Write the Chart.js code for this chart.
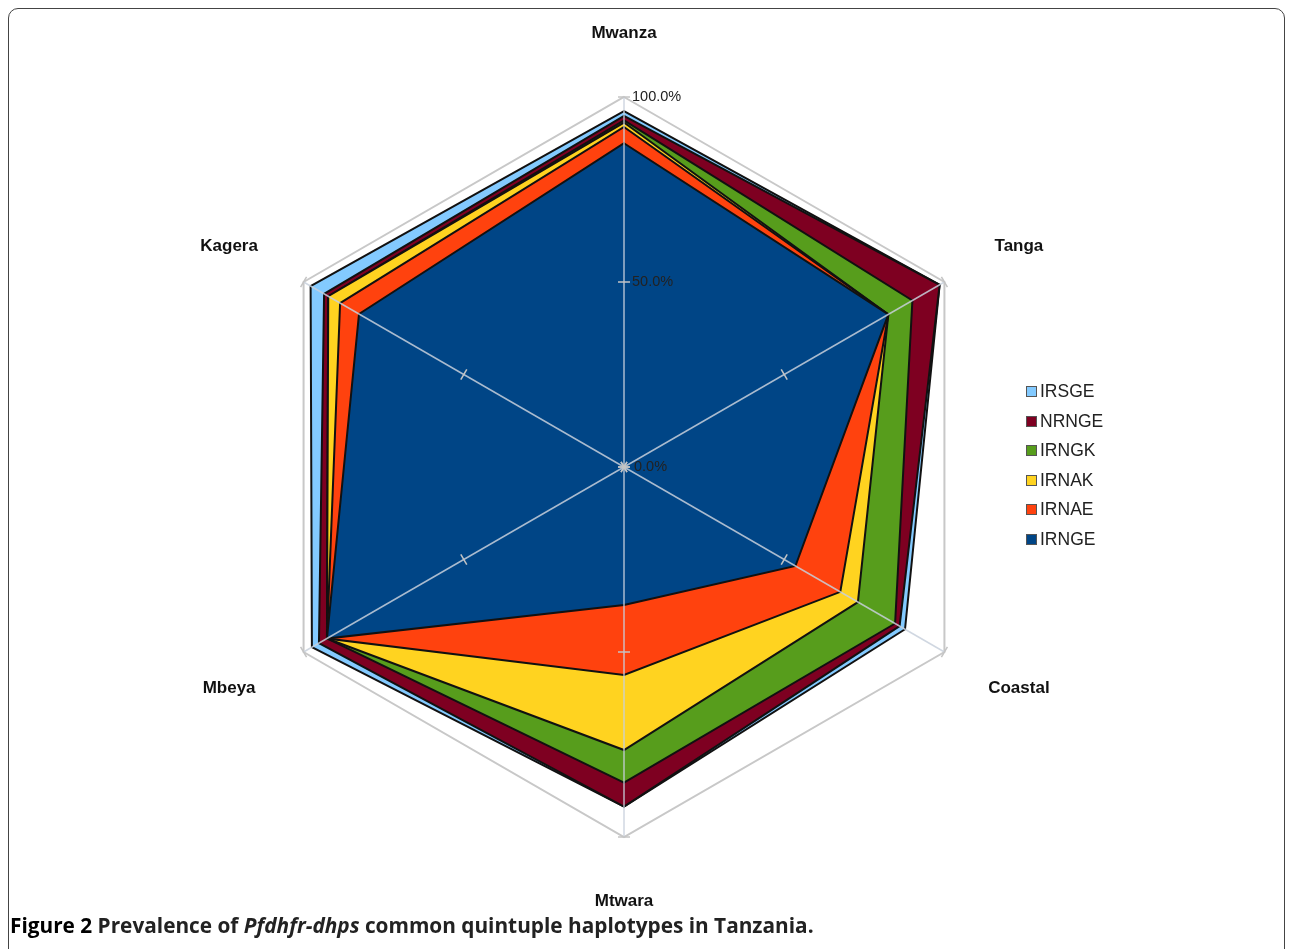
<!DOCTYPE html>
<html>
<head>
<meta charset="utf-8">
<title>Prevalence of Pfdhfr-dhps quintuple haplotypes</title>
<script src="https://cdn.jsdelivr.net/npm/chart.js@4/dist/chart.umd.min.js"></script>
<style>
    html, body { margin: 0; padding: 0; background: #fff; }
    body { width: 1292px; height: 949px; position: relative; overflow: hidden; }
    .frame {
        position: absolute; left: 8px; top: 8px; width: 1277px; height: 980px;
        border: 1.5px solid #444; border-radius: 10px; box-sizing: border-box;
    }
    #chart-wrap { position: absolute; left: 0; top: 0; width: 1292px; height: 949px; }
    .legend {
        position: absolute; left: 1026px; top: 377px;
        font-family: "Liberation Sans", Arial, sans-serif; font-size: 17.5px; color: #222;
    }
    .legend div { height: 29.5px; display: flex; align-items: center; }
    .legend span.box {
        display: inline-block; width: 9px; height: 9px; margin-right: 3px;
        border: 1px solid #555;
    }
    .caption {
        position: absolute; left: 10px; top: 911px; line-height: 28px;
        font-family: "Open Sans", "Noto Sans", sans-serif; font-weight: bold; font-size: 20.8px; color: #222;
    }
    .caption .fig { color: #000; }
    .caption i { font-style: italic; }
</style>
</head>
<body>
<div class="frame"></div>
<div id="chart-wrap"><canvas id="radarChart" width="1292" height="949"></canvas></div>
<div class="legend" id="legend"></div>
<div class="caption"><span class="fig">Figure 2</span> Prevalence of <i>Pfdhfr-dhps</i> common quintuple haplotypes in Tanzania.</div>

<script>
// regions, clockwise from the top
const regions = ['Mwanza', 'Tanga', 'Coastal', 'Mtwara', 'Mbeya', 'Kagera'];

// prevalence (%) of each haplotype per region
const irnge = [87.5, 82.5, 53.5, 37.3, 92.7, 82.7];
const irnae = [4.4, 0, 14.0, 18.9, 0, 5.9];
const irnak = [1.2, 0, 5.5, 20.3, 0, 3.7];
const irngk = [0.6, 7.5, 11.6, 8.8, 0, 0];
const nrnge = [1.2, 8.5, 1.4, 6.5, 2.5, 1.3];
const irsge = [1.3, 0, 1.7, 0, 2.2, 4.2];

const tickValues = [0, 50, 100];
const tickLabels = ['0.0%', '50.0%', '100.0%'];

// legend / stacking order, outer band first
const seriesNames = ['IRSGE', 'NRNGE', 'IRNGK', 'IRNAK', 'IRNAE', 'IRNGE'];
const seriesColors = ['#83caff', '#7e0021', '#579d1c', '#ffd320', '#ff420e', '#004586'];

document.addEventListener('DOMContentLoaded', () => {
    // stack the bands from the inside out
    const inner = [irnge, irnae, irnak, irngk, nrnge, irsge];
    const innerNames = seriesNames.slice().reverse();
    const innerColors = seriesColors.slice().reverse();
    let running = regions.map(() => 0);
    const datasets = inner.map((vals, i) => {
        running = running.map((v, j) => v + vals[j]);
        return {
            label: innerNames[i],
            data: running.slice(),
            backgroundColor: innerColors[i],
            borderColor: '#111',
            borderWidth: 2,
            borderJoinStyle: 'miter',
            pointRadius: 0,
            fill: 'origin'
        };
    });

    // extras drawn over the filled bands: spokes, ticks, tick labels, region names
    const decorations = {
        id: 'decorations',
        afterDatasetsDraw(chart) {
            const scale = chart.scales.r;
            const ctx = chart.ctx;
            const R = scale.drawingArea;
            ctx.save();

            // spokes on top of the fills
            ctx.strokeStyle = 'rgba(200,208,220,0.85)';
            ctx.lineWidth = 1.5;
            regions.forEach((_, i) => {
                const p = scale.getPointPosition(i, R);
                ctx.beginPath();
                ctx.moveTo(scale.xCenter, scale.yCenter);
                ctx.lineTo(p.x, p.y);
                ctx.stroke();
            });

            // small tick marks across each axis
            ctx.strokeStyle = '#c4c4c4';
            regions.forEach((_, i) => {
                tickValues.forEach(v => {
                    const d = scale.getDistanceFromCenterForValue(v);
                    const p = scale.getPointPosition(i, d);
                    const nx = -Math.sin(p.angle), ny = Math.cos(p.angle);
                    ctx.beginPath();
                    ctx.moveTo(p.x - nx * 6, p.y - ny * 6);
                    ctx.lineTo(p.x + nx * 6, p.y + ny * 6);
                    ctx.stroke();
                });
            });

            // value labels beside the top axis
            ctx.fillStyle = '#222';
            ctx.font = '14.5px "Liberation Sans", Arial, sans-serif';
            ctx.textAlign = 'left';
            ctx.textBaseline = 'middle';
            tickValues.forEach((v, k) => {
                const p = scale.getPointPosition(0, scale.getDistanceFromCenterForValue(v));
                ctx.fillText(tickLabels[k], p.x + (v === 0 ? 10 : 8), p.y);
            });

            // region names
            ctx.fillStyle = '#111';
            ctx.font = 'bold 17px "Liberation Sans", Arial, sans-serif';
            ctx.textAlign = 'center';
            regions.forEach((name, i) => {
                const a = scale.getPointPosition(i, R).angle;
                const x = scale.xCenter + Math.cos(a) * (R + 86);
                const y = scale.yCenter + Math.sin(a) * (R + 64 + 9 * Math.abs(Math.cos(a)));
                ctx.fillText(name, x, y);
            });
            ctx.restore();
        }
    };

    new Chart(document.getElementById('radarChart'), {
        type: 'radar',
        data: { labels: regions, datasets: datasets },
        options: {
            responsive: false,
            animation: false,
            layout: { padding: { top: 97, bottom: 112, left: 254, right: 298 } },
            elements: { line: { tension: 0 } },
            plugins: {
                legend: { display: false },
                tooltip: { enabled: false }
            },
            scales: {
                r: {
                    min: 0,
                    max: 100,
                    ticks: { display: false, stepSize: 50 },
                    pointLabels: { display: false },
                    grid: {
                        circular: false,
                        lineWidth: 2,
                        color: ctx => (ctx.tick && ctx.tick.value === 100) ? '#c8c8c8' : 'rgba(0,0,0,0)'
                    },
                    angleLines: { display: false }
                }
            }
        },
        plugins: [decorations]
    });

    // legend on the right
    const legendEl = document.getElementById('legend');
    legendEl.innerHTML = seriesNames.map((name, i) =>
        `<div><span class="box" style="background:${seriesColors[i]}"></span>${name}</div>`
    ).join('');
});
</script>
</body>
</html>
